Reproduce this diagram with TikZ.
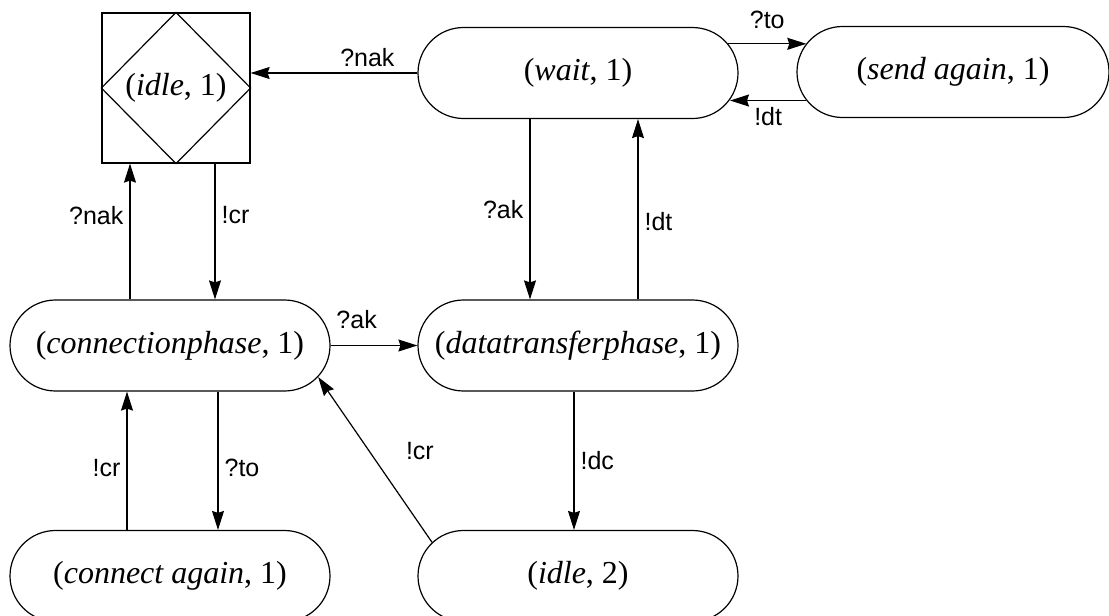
\documentclass[tikz,border=0pt]{standalone}
\usepackage{fontspec}
\setmainfont{Liberation Serif}
\setsansfont{Liberation Sans}
\usetikzlibrary{shapes.misc,arrows.meta}

\begin{document}
\begin{tikzpicture}[x=0.5pt, y=-0.5pt, line width=0.6pt,
    state/.style={draw, rounded rectangle, minimum width=160pt, minimum height=45.5pt, inner sep=0pt, font=\fontsize{16}{19}\selectfont},
    lbl/.style={font=\sffamily\fontsize{12.5}{15}\selectfont, inner sep=3pt},
    >={Stealth[length=9.5pt, width=6pt, inset=1pt]}]
\useasboundingbox (0,0) rectangle (1109,616);

\node[draw, minimum width=74pt, minimum height=75pt, inner sep=0pt, font=\fontsize{16}{19}\selectfont] (idle) at (176,88) {(\textit{idle}, 1)};
\draw (idle.north) -- (idle.east) -- (idle.south) -- (idle.west) -- cycle;

\node[state] (wait) at (578,73) {(\textit{wait}, 1)};
\node[state, minimum width=156pt] (sendagain) at (953,72) {(\textit{send again}, 1)};
\node[state] (cp) at (170,345.5) {(\textit{connectionphase}, 1)};
\node[state] (dt) at (578,345.5) {(\textit{datatransferphase}, 1)};
\node[state] (ca) at (170,576) {(\textit{connect again}, 1)};
\node[state] (idle2) at (578,576) {(\textit{idle}, 2)};

% top row
\draw[->] (wait.west) -- (wait.west -| idle.east) node[lbl, pos=0.3, above] {?nak};
\draw[->] (wait.11) -- (sendagain.169 |- wait.11) node[lbl, midway, above=4pt] {?to};
\draw[->] (sendagain.191) -- (sendagain.191 -| wait.-10) node[lbl, midway, below] {!dt};

% verticals
\draw[->] ([xshift=-24pt]wait.south) -- ([xshift=-24pt]wait.south |- dt.north) node[lbl, midway, left] {?ak};
\draw[->] ([xshift=30pt]dt.north) -- ([xshift=30pt]dt.north |- wait.south) node[lbl, pos=0.43, right] {!dt};
\draw[->] ([xshift=22.5pt]cp.north |- idle.south) -- ([xshift=22.5pt]cp.north) node[lbl, pos=0.38, right] {!cr};
\draw[->] ([xshift=-20pt]cp.north) -- ([xshift=-20pt]cp.north |- idle.south) node[lbl, pos=0.62, left] {?nak};
\draw[->] (cp.east) -- (dt.west) node[lbl, pos=0.3, above=5pt] {?ak};
\draw[->] ([xshift=24pt]cp.south) -- ([xshift=24pt]cp.south |- ca.north) node[lbl, pos=0.55, right] {?to};
\draw[->] ([xshift=-21.5pt]ca.north) -- ([xshift=-21.5pt]ca.north |- cp.south) node[lbl, pos=0.45, left] {!cr};
\draw[->] ([xshift=-2pt]dt.south) -- ([xshift=-2pt]dt.south |- idle2.north) node[lbl, midway, right] {!dc};
\draw[->] (idle2.167) -- (cp.-12.6) node[lbl, pos=0.55, right=15pt] {!cr};
\end{tikzpicture}
\end{document}
